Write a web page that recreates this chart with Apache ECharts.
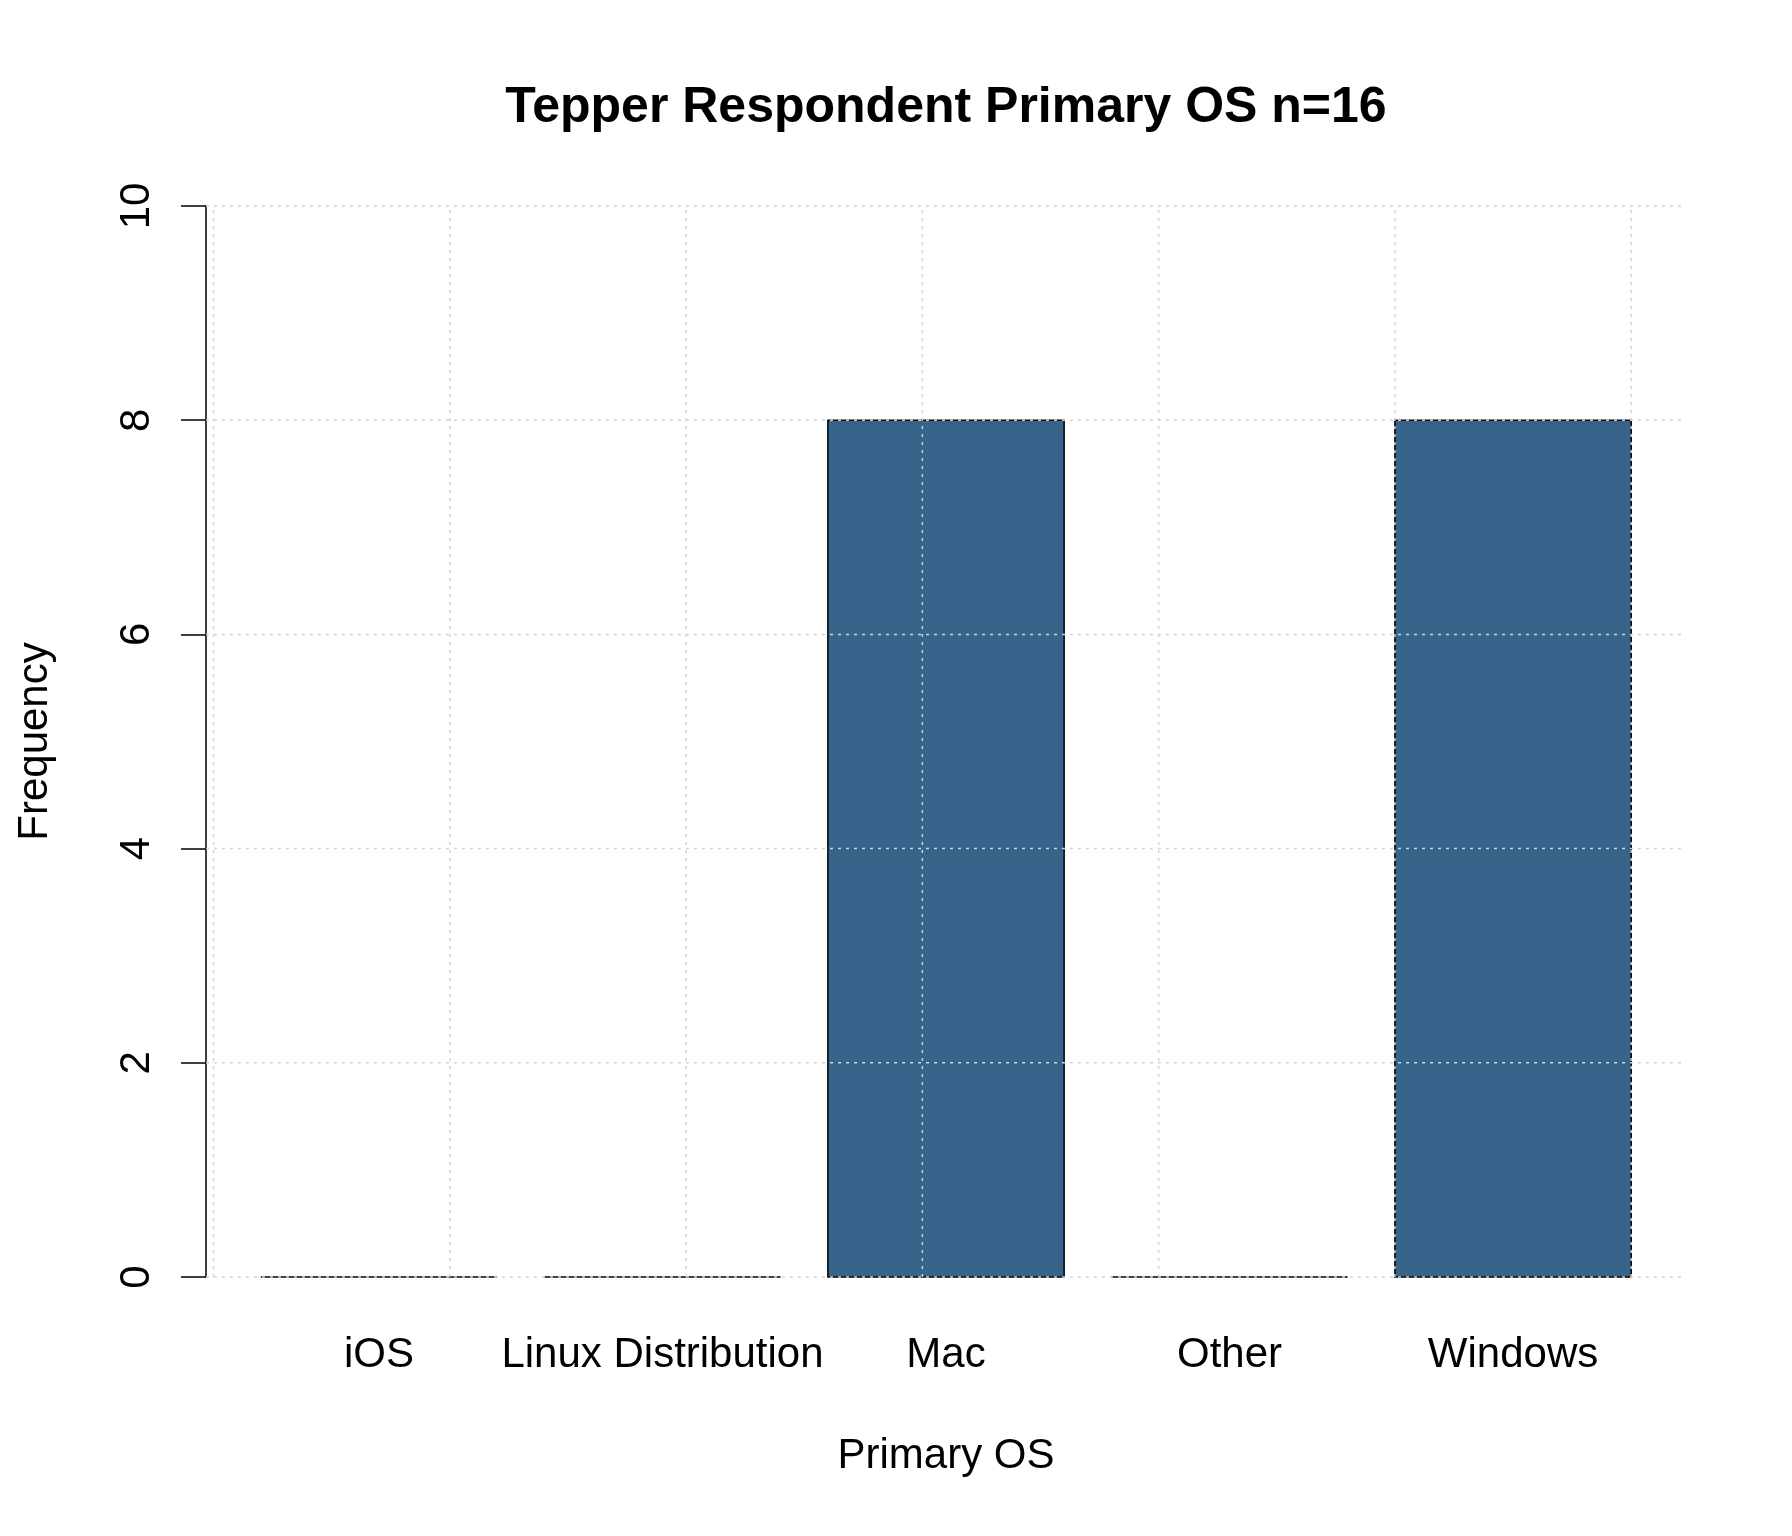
<!DOCTYPE html>
<html>
<head>
<meta charset="utf-8">
<script src="https://cdn.jsdelivr.net/npm/echarts@6/dist/echarts.min.js"></script>
<style>
  html, body { margin: 0; background: #fff; }
  #chart { width: 1792px; height: 1536px; }
</style>
</head>
<body>
<div id="chart"></div>
<script>
const categories = ['iOS', 'Linux Distribution', 'Mac', 'Other', 'Windows']
const counts = [0, 0, 8, 0, 8]
const yTicks = [0, 2, 4, 6, 8, 10]
const xGridAt = [0, 1, 2, 3, 4, 5, 6]

// barplot style layout: width 1, space 0.2, range padded 4%
const barWidth = 1
const barSpace = 0.2
const xMin = -0.032
const xMax = 6.232

const FONT = '"Liberation Sans", Arial, sans-serif'
const GRID_STYLE = { stroke: '#d3d3d3', lineWidth: 1.5, lineDash: [3, 5] }

const bars = counts.map((v, i) => {
  const left = barSpace + i * (barWidth + barSpace)
  return [left, left + barWidth, v]
})

const chart = echarts.init(document.getElementById('chart'))

chart.setOption({
  animation: false,
  backgroundColor: '#fff',
  title: {
    text: 'Tepper Respondent Primary OS n=16',
    left: 941,
    top: 78,
    textAlign: 'center',
    textStyle: { fontFamily: FONT, fontSize: 50, fontWeight: 'bold', color: '#000' },
  },
  grid: { left: 206, right: 106, top: 206, bottom: 259 },
  xAxis: {
    type: 'value',
    min: xMin,
    max: xMax,
    axisLine: { show: false },
    axisTick: { show: false },
    axisLabel: { show: false },
    splitLine: { show: false },
    name: 'Primary OS',
    nameLocation: 'middle',
    nameGap: 158,
    nameTextStyle: { fontFamily: FONT, fontSize: 42, color: '#000' },
  },
  yAxis: {
    type: 'value',
    min: 0,
    max: 10,
    interval: 2,
    axisLine: { show: true, onZero: false, lineStyle: { color: '#000', width: 1.5 } },
    axisTick: { show: true, length: 25, lineStyle: { color: '#000', width: 1.5 } },
    axisLabel: { rotate: 90, margin: 48, fontFamily: FONT, fontSize: 42, color: '#000' },
    splitLine: { show: false },
    name: 'Frequency',
    nameLocation: 'middle',
    nameRotate: 90,
    nameGap: 150,
    nameTextStyle: { fontFamily: FONT, fontSize: 42, color: '#000' },
  },
  series: [
    {
      type: 'custom',
      z: 2,
      data: bars,
      renderItem: (params, api) => {
        const p0 = api.coord([api.value(0), 0])
        const p1 = api.coord([api.value(1), api.value(2)])
        return {
          type: 'group',
          children: [
            {
              type: 'rect',
              shape: { x: p0[0], y: p1[1], width: p1[0] - p0[0], height: p0[1] - p1[1] },
              style: { fill: '#36648B', stroke: '#000', lineWidth: 1.5 },
            },
            {
              type: 'text',
              style: {
                text: categories[params.dataIndex],
                x: (p0[0] + p1[0]) / 2,
                y: p0[1] + 78,
                align: 'center',
                verticalAlign: 'middle',
                fill: '#000',
                fontFamily: FONT,
                fontSize: 42,
              },
            },
          ],
        }
      },
    },
    {
      // horizontal grid, drawn over the bars
      type: 'custom',
      z: 5,
      silent: true,
      data: yTicks.map(v => [0, v]),
      renderItem: (params, api) => {
        const a = api.coord([xMin, api.value(1)])
        const b = api.coord([xMax, api.value(1)])
        return { type: 'line', shape: { x1: a[0], y1: a[1], x2: b[0], y2: b[1] }, style: GRID_STYLE }
      },
    },
    {
      // vertical grid
      type: 'custom',
      z: 5,
      silent: true,
      data: xGridAt.map(v => [v, 0]),
      renderItem: (params, api) => {
        const a = api.coord([api.value(0), 0])
        const b = api.coord([api.value(0), 10])
        return { type: 'line', shape: { x1: a[0], y1: a[1], x2: b[0], y2: b[1] }, style: GRID_STYLE }
      },
    },
  ],
})
</script>
</body>
</html>
